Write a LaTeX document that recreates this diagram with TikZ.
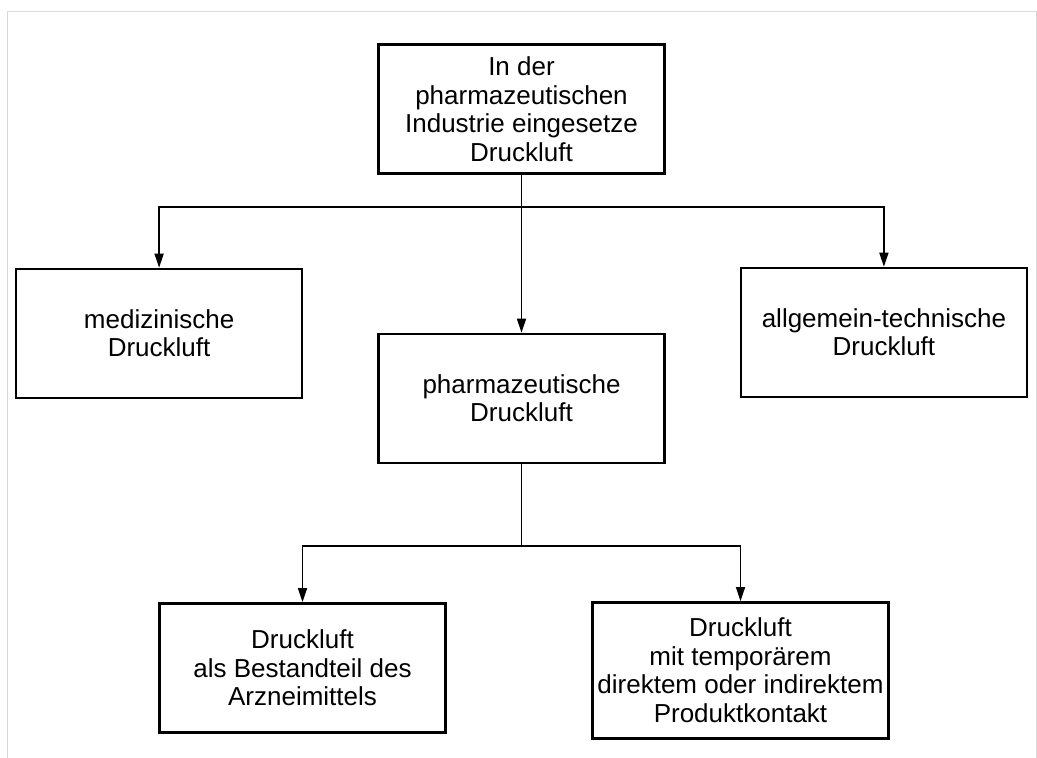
\documentclass[tikz,border=0pt]{standalone}
\usepackage{fontspec}
\setmainfont{Liberation Sans}
\usetikzlibrary{positioning,arrows.meta,calc}
\tikzset{arrow/.style={line width=1.6pt,-{Triangle[length=14pt,width=9pt]}}}

\begin{document}
\begin{tikzpicture}[
    x=1pt, y=1pt,
    node distance=74pt,
    every node/.style={font=\fontsize{26}{28.5}\selectfont},
    box/.style={
        draw,
        line width=2.4pt,
        align=center,
        minimum width=286pt,
        minimum height=129pt,
        inner sep=3pt
    },
    widebox/.style={
        box,
        minimum width=296pt,
        minimum height=136pt
    },
    line/.style={line width=1.6pt}
]

% page frame, open at the bottom
\useasboundingbox (0,0) rectangle (1037,-758);
\draw[black!15, line width=1pt] (7,-758) -- (7,-11) -- (1036,-11) -- (1036,-758);

\node[box] (top) at (521.5,-109)
{In der\\pharmazeutischen\\Industrie eingesetze\\Druckluft};

\node[box, below left=93pt and 74pt of top] (med)
{medizinische\\Druckluft};

\node[box, below right=92pt and 74pt of top] (allg)
{allgemein-technische\\Druckluft};

\node[box, below=158pt of top] (pharma)
{pharmazeutische\\Druckluft};

\node[box, below=138pt of pharma, xshift=-219pt] (bestand)
{Druckluft\\als Bestandteil des\\Arzneimittels};

\node[widebox, below=137pt of pharma, xshift=219pt] (kontakt)
{Druckluft\\mit temporärem\\direktem oder indirektem\\Produktkontakt};

% first level
\coordinate[below=32pt of top] (fork1);
\draw[arrow] (top.south) -- (pharma.north);
\draw[arrow] (fork1) -| (med.north);
\draw[arrow] (fork1) -| (allg.north);

% second level
\coordinate[below=82pt of pharma] (fork2);
\draw[line] (pharma.south) -- (fork2);
\draw[arrow] (fork2) -| (bestand.north);
\draw[arrow] (fork2) -| (kontakt.north);

\end{tikzpicture}
\end{document}
